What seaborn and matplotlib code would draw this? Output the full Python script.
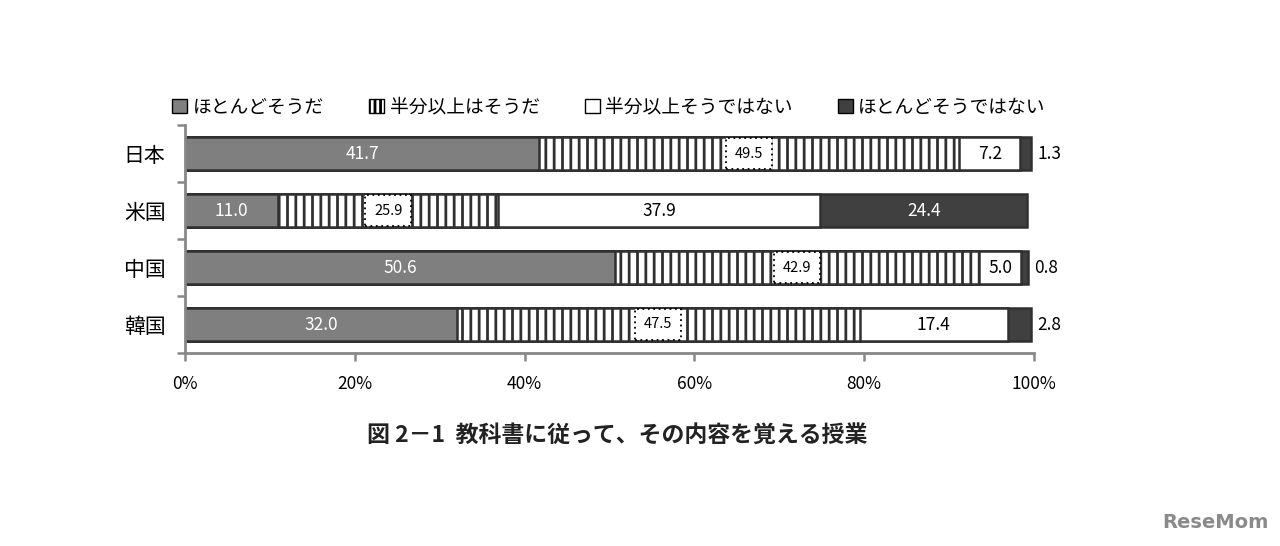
import matplotlib
matplotlib.use("Agg")
import matplotlib.pyplot as plt
from matplotlib.patches import Patch
import seaborn as sns
import numpy as np

countries = ["日本", "米国", "中国", "韓国"]
mostly_yes = [41.7, 11.0, 50.6, 32.0]
half_yes = [49.5, 25.9, 42.9, 47.5]
half_no = [7.2, 37.9, 5.0, 17.4]
mostly_no = [1.3, 24.4, 0.8, 2.8]
series_names = ["ほとんどそうだ", "半分以上はそうだ", "半分以上そうではない", "ほとんどそうではない"]
x_ticks = [0, 20, 40, 60, 80, 100]
title = "図 2－1  教科書に従って、その内容を覚える授業"

sns.set_theme(style="white")
plt.rcParams["font.family"] = ["Noto Sans CJK JP", "DejaVu Sans"]
plt.rcParams["hatch.linewidth"] = 2.0
plt.rcParams["hatch.color"] = "black"

fig = plt.figure(figsize=(12.8, 5.46), dpi=100)
ax = fig.add_axes([185/1280, 1-353/546, 849/1280, (353-125)/546])

series = [mostly_yes, half_yes, half_no, mostly_no]
arr = np.array(series)
cum = np.cumsum(arr, axis=0)

styles = [
    dict(color="#7f7f7f", hatch=None),
    dict(color="white", hatch="||"),
    dict(color="white", hatch=None),
    dict(color="#404040", hatch=None),
]
edge = "#303030"
# draw cumulative bars from the longest to the shortest
for i in range(3, -1, -1):
    kw = dict(x=list(cum[i]), y=countries, orient="h", color=styles[i]["color"],
              width=0.58, edgecolor=edge, linewidth=1.8, ax=ax, saturation=1)
    if styles[i]["hatch"]:
        kw["hatch"] = styles[i]["hatch"]
    sns.barplot(**kw)

ax.set_xlim(0, 100)
ax.set_ylim(3.5, -0.5)
ax.set_xlabel("")
ax.set_ylabel("")

# labels
for j in range(len(countries)):
    for i in range(4):
        v = arr[i, j]
        left = cum[i, j] - v
        xc = left + v / 2
        txt = f"{v:.1f}"
        if i == 0:
            ax.text(xc, j, txt, ha="center", va="center", color="white", fontsize=12.5)
        elif i == 1:
            ax.text(xc, j, txt, ha="center", va="center", color="black", fontsize=10.5,
                    bbox=dict(boxstyle="square,pad=0.6", fc="white", ec="black", ls=(0, (1, 2)), lw=1.3))
        elif i == 2:
            ax.text(xc, j, txt, ha="center", va="center", color="black", fontsize=12.5)
        else:
            if v < 5:
                ax.text(cum[i, j] + 0.7, j, txt, ha="left", va="center", color="black", fontsize=12.5)
            else:
                ax.text(xc, j, txt, ha="center", va="center", color="white", fontsize=12.5)

ax.set_xticks(x_ticks)
ax.set_xticklabels([f"{t}%" for t in x_ticks], fontsize=12.5, color="black")
ax.set_yticks(range(len(countries)))
ax.set_yticklabels(countries, fontsize=15, color="black")
ax.set_yticks(np.arange(-0.5, len(countries), 1.0), minor=True)
ax.tick_params(axis="y", which="major", left=False, length=0, pad=14)
ax.tick_params(axis="y", which="minor", left=True, length=6, width=1.8, color="#888888", direction="out")
ax.tick_params(axis="x", which="major", bottom=True, length=6, width=1.8, color="#888888", direction="out", pad=10)
for s in ["top", "right"]:
    ax.spines[s].set_visible(False)
for s in ["left", "bottom"]:
    ax.spines[s].set_color("#888888")
    ax.spines[s].set_linewidth(2)

handles = [Patch(facecolor=styles[i]["color"], edgecolor="black", linewidth=1)
           for i in range(4)]
handles[1] = Patch(facecolor="white", edgecolor="black", hatch="|||", linewidth=1)
fig.legend(handles, series_names, loc="center", bbox_to_anchor=(609/1280, 1-107/546), ncol=4,
           frameon=False, fontsize=13.5, handlelength=0.8, handleheight=0.8, handletextpad=0.3,
           columnspacing=2.4, labelcolor="black")

fig.text(617/1280, 1-435/546, title, ha="center", va="center", fontsize=16.5, color="#222222",
         fontweight="bold")
fig.text(1215/1280, 1-523/546, "ReseMom", ha="center", va="center", fontsize=14,
         fontweight="bold", color="#8a8a8a", family=["DejaVu Sans"])

fig.savefig("out.png", dpi=100)
